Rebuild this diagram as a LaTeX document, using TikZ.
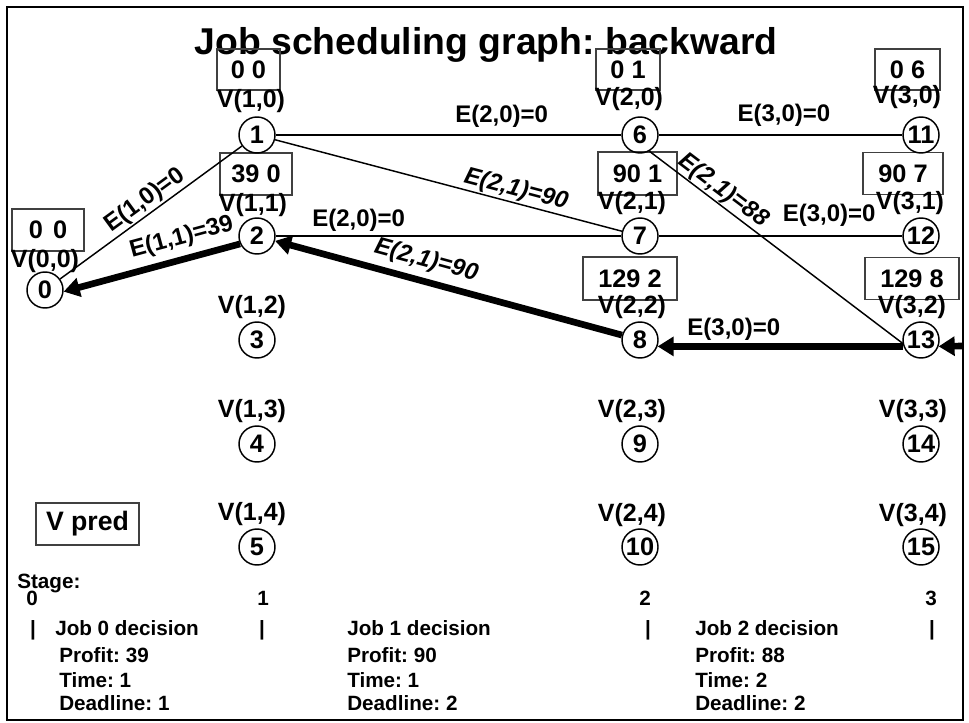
\documentclass[tikz,border=0pt]{standalone}
\usepackage{fontspec}
\setmainfont{Liberation Sans}
\usetikzlibrary{arrows.meta}
\newcommand\myfs[1]{\fontsize{#1}{#1}\selectfont}
\frenchspacing
\tikzset{
  circ/.style={circle, draw, line width=1.1pt, minimum size=27pt, inner sep=0pt, font=\bfseries\myfs{19}},
  vlab/.style={inner sep=0pt, font=\bfseries\myfs{18.75}},
  vbox/.style 2 args={draw=black!75, line width=0.8pt, inner sep=0pt, font=\bfseries\myfs{19},
    minimum width=#1*0.75pt, minimum height=#2*0.75pt},
  elab/.style={inner sep=0pt, font=\bfseries\myfs{18}},
  elabi/.style={inner sep=0pt, font=\bfseries\itshape\myfs{18}},
  thinedge/.style={line width=1.1pt},
  thickedge/.style={line width=5pt},
  bigtip/.style={{Triangle[length=12pt 0 0, width=14pt 0 0]}-},
  btxt/.style={inner sep=0pt, anchor=base west, font=\bfseries\myfs{15.5}},
  bnum/.style={inner sep=0pt, anchor=base, font=\bfseries\myfs{15.5}},
}
\begin{document}
\frenchspacing
\begin{tikzpicture}[x=0.75pt, y=-0.75pt]
\useasboundingbox (0,0) rectangle (969,723);
\draw[line width=1.5pt] (7,7) rectangle (963,720);

% title
\node[font=\bfseries\myfs{28}, anchor=base, inner sep=0pt] (title) at (486,55) {Job scheduling graph: backward};

% value boxes
\node[vbox={63}{41}] (b10) at (248.5,69.5) {0 0};
\node[vbox={72}{42}] (b11) at (256,174) {39 0};
\node[vbox={72}{42}] (b00) at (48,230) {0\hspace{0.4em}0};
\node[vbox={64}{41}] (b20) at (628,69.5) {0 1};
\node[vbox={79}{43}] (b21) at (637.5,173.5) {90 1};
\node[vbox={94}{43}] (b22) at (630,278.5) {129 2};
\node[vbox={65}{41}] (b30) at (907.5,69.5) {0 6};
\node[vbox={80}{42}] (b31) at (903,173.5) {90 7};
\node[vbox={94}{42}] (b32) at (912,278.5) {129 8};
\node[vbox={103}{42}, font=\bfseries\myfs{20}] (vpred) at (87.5,524) {V pred};

% vertex labels
\node[vlab] (v00) at (45,261) {V(0,0)};
\node[vlab] (v10) at (251,101) {V(1,0)};
\node[vlab] (v11) at (253,205) {V(1,1)};
\node[vlab] (v12) at (252,307) {V(1,2)};
\node[vlab] (v13) at (252,411) {V(1,3)};
\node[vlab] (v14) at (252,514) {V(1,4)};
\node[vlab] (v20) at (629,99) {V(2,0)};
\node[vlab] (v21) at (632,203) {V(2,1)};
\node[vlab] (v22) at (632,307) {V(2,2)};
\node[vlab] (v23) at (632,411) {V(2,3)};
\node[vlab] (v24) at (632,515) {V(2,4)};
\node[vlab] (v30) at (907,97) {V(3,0)};
\node[vlab] (v31) at (910,203) {V(3,1)};
\node[vlab] (v32) at (912,307) {V(3,2)};
\node[vlab] (v33) at (913,411) {V(3,3)};
\node[vlab] (v34) at (913,515) {V(3,4)};

% vertices
\node[circ] (n0) at (45,290) {0};
\node[circ] (n1) at (257,135) {1};
\node[circ] (n2) at (257,236) {2};
\node[circ] (n3) at (257,340) {3};
\node[circ] (n4) at (257,444) {4};
\node[circ] (n5) at (257,547) {5};
\node[circ] (n6) at (640,135) {6};
\node[circ] (n7) at (640,236) {7};
\node[circ] (n8) at (640,340) {8};
\node[circ] (n9) at (640,444) {9};
\node[circ] (n10) at (640,547) {10};
\node[circ] (n11) at (921,135) {11};
\node[circ] (n12) at (921,236) {12};
\node[circ] (n13) at (921,340) {13};
\node[circ] (n14) at (921,444) {14};
\node[circ] (n15) at (921,547) {15};
\coordinate (rim) at (963,346);

% edges
\draw[thinedge] (n0) -- node[elab, sloped, above=1pt, pos=0.51] (e10) {E(1,0)=0} (n1);
\draw[thickedge, bigtip] (n0.-5) -- node[elab, sloped, above=5pt, pos=0.70] (e11) {E(1,1)=39} (n2.205);
\draw[thinedge] (n1) -- node[elab, above=5pt, pos=0.654] (e20a) {E(2,0)=0} (n6);
\draw[thinedge] (n1) -- node[elabi, sloped, above=1pt, pos=0.685] (e21a) {E(2,1)=90} (n7);
\draw[thinedge] (n6) -- node[elab, above=6pt, pos=0.514] (e30a) {E(3,0)=0} (n11);
\draw[thinedge] (n6.-60) -- node[elabi, sloped, above=1pt, pos=0.26] (e21c) {E(2,1)=88} (n13.190);
\draw[thinedge] (n2) -- node[elab, above=2.6pt, pos=0.24] (e20b) {E(2,0)=0} (n7);
\draw[thickedge, bigtip] (n2) -- node[elabi, sloped, above=4.5pt, pos=0.42] (e21b) {E(2,1)=90} (n8);
\draw[thinedge] (n7) -- node[elab, above=6.5pt, pos=0.70] (e30b) {E(3,0)=0} (n12);
\draw[thickedge, bigtip] (n8.-20) -- node[elab, above=2pt, pos=0.31] (e30c) {E(3,0)=0} (n13.200);
\draw[thickedge, bigtip] (n13.-20) -- (rim);

% bottom text
\node[btxt] (stage) at (17,588) {Stage:};
\node[bnum] (s0) at (32,605) {0};
\node[bnum] (s1) at (263,605) {1};
\node[bnum] (s2) at (645,605) {2};
\node[bnum] (s3) at (931,605) {3};
\node[bnum] (p0) at (33,635) {|};
\node[bnum] (p1) at (262,635) {|};
\node[bnum] (p2) at (648,635) {|};
\node[bnum] (p3) at (932,635) {|};
\node[btxt] (j0) at (55,635) {Job 0 decision};
\node[btxt] (j1) at (347,635) {Job 1 decision};
\node[btxt] (j2) at (695,635) {Job 2 decision};
\node[btxt] (pr0) at (59,662) {Profit: 39};
\node[btxt] (pr1) at (347,662) {Profit: 90};
\node[btxt] (pr2) at (695,662) {Profit: 88};
\node[btxt] (t0) at (59,687) {Time: 1};
\node[btxt] (t1) at (347,687) {Time: 1};
\node[btxt] (t2) at (695,687) {Time: 2};
\node[btxt] (d0) at (59,710) {Deadline: 1};
\node[btxt] (d1) at (347,710) {Deadline: 2};
\node[btxt] (d2) at (695,710) {Deadline: 2};
\end{tikzpicture}
\end{document}
